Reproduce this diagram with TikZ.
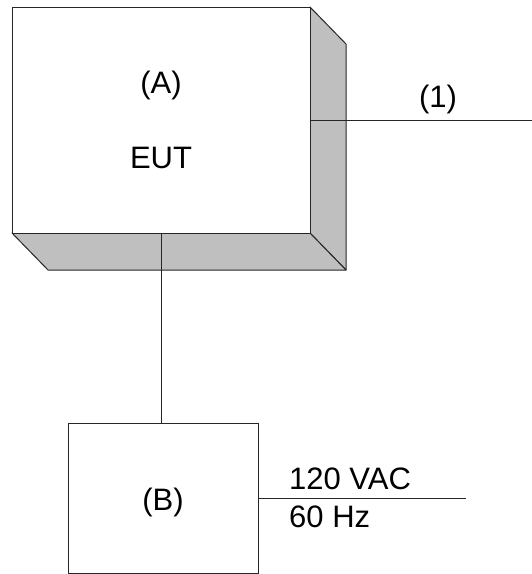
\documentclass[tikz,border=0pt]{standalone}
\usepackage{fontspec}
\setmainfont{Liberation Sans}
\begin{document}
\begin{tikzpicture}[x=1pt,y=-1pt,
  edge/.style={line width=1pt,black!85},
  box/.style={draw=black!85,line width=1pt,fill=white,inner sep=0pt},
  face/.style={draw=black!85,line width=1pt,fill=gray!50,line join=round},
  lbl/.style={font=\fontsize{31}{37}\selectfont,inner sep=0pt,anchor=base}]
\useasboundingbox (0,0) rectangle (532,574);
% 3D sides of EUT
\draw[face] (310,7) -- (346,44) -- (346,270) -- (310,233) -- cycle;
\draw[face] (12,233) -- (310,233) -- (346,270) -- (48,270) -- cycle;
\node[box,minimum width=298pt,minimum height=226pt] (A) at (161,120) {};
\node[box,minimum width=190pt,minimum height=150pt] (B) at (163,498) {};
\node[lbl] (Alab) at (161,93) {(A)};
\node[lbl] (Aeut) at (161,168) {EUT};
\node[lbl] (one) at (438,107) {(1)};
\node[lbl] (Blab) at (163,510) {(B)};
\node[lbl,anchor=base west] (vac) at (289,489) {120 VAC};
\node[lbl,anchor=base west] (hz) at (289,527) {60 Hz};
\coordinate (oneEnd) at (532,120);
\coordinate (pwrEnd) at (466,498);
\draw[edge] (A.east) -- (oneEnd);
\draw[edge] (A.south) -- (A.south |- B.north);
\draw[edge] (B.east) -- (pwrEnd);
\end{tikzpicture}
\end{document}
